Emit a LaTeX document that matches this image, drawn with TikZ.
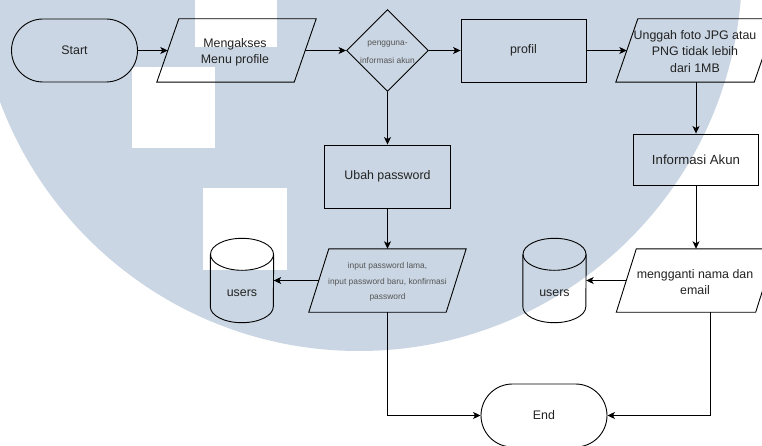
\documentclass[tikz,border=0pt]{standalone}
\usepackage{fontspec}
\setmainfont{Liberation Sans}
\usetikzlibrary{arrows.meta,calc,shapes.geometric,shapes.misc}

\definecolor{emblem}{RGB}{202,214,227}
\definecolor{ink}{RGB}{34,34,34}
\definecolor{faint}{RGB}{85,85,85}

\begin{document}
\begin{tikzpicture}[x=1pt,y=1pt,
  line/.style={draw=black,line width=0.9pt},
  arr/.style={line,-{Stealth[length=7.5pt,width=7pt,inset=2pt]}},
  txt/.style={text=ink,font=\fontsize{12.4}{16.4}\selectfont,align=center},
  small/.style={text=faint,font=\fontsize{8.4}{15.3}\selectfont,align=center,inner sep=0pt},
  term/.style={rounded rectangle,line,txt,minimum width=126pt,minimum height=63pt,inner sep=0pt},
  proc/.style={rectangle,line,txt,minimum width=125pt,minimum height=63pt,inner sep=0pt},
  iobox/.style={rectangle,minimum width=137pt,minimum height=63pt,inner sep=0pt},
  decide/.style={diamond,line,minimum width=82pt,minimum height=82pt,inner sep=0pt},
  store/.style={rectangle,minimum width=63pt,minimum height=84pt,inner sep=0pt},
]
\useasboundingbox (0,0) rectangle (762,-446);

% pale emblem in the background
\begin{scope}
  \clip (0,0) rectangle (762,-446);
  \fill[white] (0,0) rectangle (762,-446);
  \fill[emblem] (359,32) circle[radius=383pt];
  \fill[white] (195,0) rectangle (277,-47);
  \fill[white] (132,-67) rectangle (215,-148);
  \fill[white] (203,-188) rectangle (287,-270);
\end{scope}

% top row
\node[term] (start) at (74.5,-50.5) {Start};
\node[iobox] (menu) at (236.5,-50.5) {};
\node[txt] (menutext) at (235,-52) {Mengakses\\Menu profile};
\node[decide] (q) at (387.5,-50.5) {};
\node[small,font=\fontsize{8.4}{18}\selectfont] (qtext) at (387.5,-52) {pengguna-\\informasi akun};
\node[proc] (profil) at (523.5,-50.5) {profil};
\node[iobox,minimum width=138pt] (upload) at (696,-50.5) {};
\node[txt] (uploadtext) at (695,-51.5) {Unggah foto JPG atau\\PNG tidak lebih\\dari 1MB};

% left branch
\node[proc,minimum width=126pt] (ubah) at (387.5,-176.5) {Ubah password};
\node[iobox] (pwd) at (387.5,-280.5) {};
\node[small] (pwdtext) at (387.5,-282) {input password lama,\\input password baru, konfirmasi\\password};
\node[store] (db1) at (242,-280.5) {};
\node[txt] (db1text) at (242,-293) {users};

% right branch
\node[proc,minimum height=51pt,font=\fontsize{13.2}{16.4}\selectfont] (info) at (696,-159.5) {Informasi Akun};
\node[iobox,minimum width=139pt] (ganti) at (696,-280.5) {};
\node[txt] (gantitext) at (695,-282) {mengganti nama dan\\email};
\node[store] (db2) at (554.5,-280.5) {};
\node[txt] (db2text) at (554.5,-293) {users};

\node[term] (end) at (544,-415.5) {End};

% slanted outlines of the input/output boxes
\foreach \n/\s in {menu/11,upload/11,pwd/10,ganti/10}{
  \draw[line] ($(\n.north west)+(\s,0)$) -- ($(\n.north east)+(\s,0)$)
    -- ($(\n.south east)+(-\s,0)$) -- ($(\n.south west)+(-\s,0)$) -- cycle;
}

% database cylinders
\foreach \n in {db1,db2}{
  \draw[line] ($(\n.north)+(0,-16)$) ellipse [x radius=31.5pt,y radius=16pt];
  \draw[line] ($(\n.north west)+(0,-16)$) -- ($(\n.south west)+(0,16)$)
    arc[start angle=180,end angle=360,x radius=31.5pt,y radius=16pt]
    -- ($(\n.north east)+(0,-16)$);
}

% connectors
\draw[arr] (start) -- (menu);
\draw[arr] (menu) -- (q);
\draw[arr] (q) -- (profil);
\draw[arr] (profil) -- (upload);
\draw[arr] (upload) -- (info);
\draw[arr] (info) -- (ganti);
\draw[arr] (ganti) -- (db2);
\draw[arr] (q) -- (ubah);
\draw[arr] (ubah) -- (pwd);
\draw[arr] (pwd) -- (db1);
\draw[arr] (pwd.south) |- (end);
\coordinate (gantiout) at ($(ganti.south)+(14,0)$);
\draw[arr] (gantiout) |- (end);
\end{tikzpicture}
\end{document}
